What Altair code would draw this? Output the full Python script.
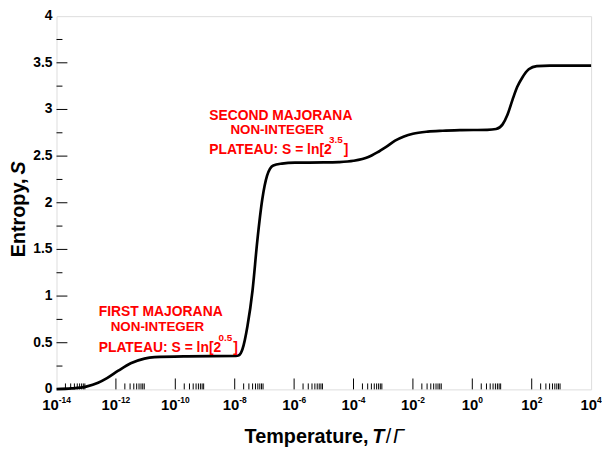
import altair as alt
import pandas as pd

FONT = "Liberation Sans"

# ---- curve: log10(T/Gamma) and entropy S ----
log_T = [-14.0, -13.5, -13.0, -12.6, -12.3, -11.92, -11.5, -11.04, -10.7, -9.6,
         -7.96, -7.86, -7.74, -7.57, -7.40, -7.24, -7.07, -6.91, -6.70, -6.41,
         -5.97, -5.0, -4.5, -4.0, -3.5, -3.2, -2.9, -2.6, -2.3, -2.0,
         -1.5, -1.0, -0.36, 0.5, 0.80, 1.02, 1.18, 1.35, 1.51, 1.68,
         1.90, 2.17, 2.61, 4.0]
entropy = [0.003, 0.01, 0.03, 0.07, 0.12, 0.20, 0.28, 0.33, 0.345, 0.354,
           0.358, 0.365, 0.43, 0.68, 1.06, 1.59, 2.04, 2.29, 2.40, 2.42,
           2.43, 2.432, 2.436, 2.45, 2.49, 2.54, 2.60, 2.665, 2.71, 2.74,
           2.763, 2.772, 2.778, 2.782, 2.79, 2.84, 2.94, 3.10, 3.24, 3.34,
           3.43, 3.465, 3.47, 3.47]

# ---- axes ----
x_label_exp = [-14, -12, -10, -8, -6, -4, -2, 0, 2, 4]
x_major_exp = [-12, -10, -8, -6, -4, -2, 0, 2]
x_minor_decades = [-14, -12, -10, -8, -6, -4, -2, 0, 2]
x_minor_mult = [2, 3, 4, 5, 6, 7, 8, 9]
y_labels = [0, 0.5, 1, 1.5, 2, 2.5, 3, 3.5, 4]
y_label_text = ["0", "0.5", "1", "1.5", "2", "2.5", "3", "3.5", "4"]
y_major = [0.5, 1, 1.5, 2, 2.5, 3, 3.5]
y_minor = [0.25, 0.75, 1.25, 1.75, 2.25, 2.75, 3.25, 3.75]

# ---- annotations ----
ann_left_text = ["FIRST MAJORANA", "PLATEAU: S = ln[2", "SECOND MAJORANA", "PLATEAU: S = ln[2"]
ann_left_logT = [-12.58, -12.58, -8.86, -8.86]
ann_left_S = [0.782, 0.400, 2.888, 2.522]
ann_center_text = ["NON-INTEGER", "NON-INTEGER"]
ann_center_logT = [-10.6, -6.57]
ann_center_S = [0.626, 2.732]
ann_sup_text = ["0.5", "3.5"]
ann_sup_logT = [-12.58, -8.86]
ann_sup_S = [0.400, 2.522]

W, H = 540, 377
RED = "#ff0000"

xscale = alt.Scale(type="log", domain=[1e-14, 1e4], nice=False)
yscale = alt.Scale(domain=[0, 4], nice=False)


def X(field="T"):
    return alt.X(f"{field}:Q", scale=xscale, axis=None)


def Y(field="S"):
    return alt.Y(f"{field}:Q", scale=yscale, axis=None)


curve = pd.DataFrame({"T": [10.0 ** v for v in log_T], "S": entropy})
line = alt.Chart(curve).mark_line(color="black", strokeWidth=2.7, interpolate="monotone").encode(
    x=X(), y=Y())

xmaj_df = pd.DataFrame({"T": [10.0 ** e for e in x_major_exp]})
xmin_df = pd.DataFrame({"T": [m * 10.0 ** d for d in x_minor_decades for m in x_minor_mult]})
ymaj_df = pd.DataFrame({"S": y_major})
ymin_df = pd.DataFrame({"S": y_minor})

xmaj = alt.Chart(xmaj_df).mark_rule(color="black", strokeWidth=1).encode(
    x=X(), y=alt.value(H - 11), y2=alt.value(H))
xmin = alt.Chart(xmin_df).mark_rule(color="black", strokeWidth=1).encode(
    x=X(), y=alt.value(H - 6), y2=alt.value(H))
ymaj = alt.Chart(ymaj_df).mark_rule(color="black", strokeWidth=1).encode(
    y=Y(), x=alt.value(0), x2=alt.value(11))
ymin = alt.Chart(ymin_df).mark_rule(color="black", strokeWidth=1).encode(
    y=Y(), x=alt.value(0), x2=alt.value(6))

# y tick labels
yl_df = pd.DataFrame({"S": y_labels, "lab": y_label_text})
yl = alt.Chart(yl_df).mark_text(align="right", baseline="middle", font=FONT, fontSize=14,
                                fontWeight="bold", color="black").encode(
    y=Y(), x=alt.value(-4), text="lab:N")

# x tick labels 10^n drawn as base + superscript; shifted so the pair is centred
xl_df = pd.DataFrame({"T": [10.0 ** e for e in x_label_exp],
                      "sup": [str(e) for e in x_label_exp]})
xl_layers = []
for nchar, shift in [(3, 2.2), (2, 4.6), (1, 6.0)]:
    sub = alt.Chart(xl_df).transform_filter(f"length(datum.sup) == {nchar}")
    xl_layers.append(sub.mark_text(align="right", baseline="alphabetic", font=FONT, fontSize=15,
                                   fontWeight="bold", color="black", dx=shift).encode(
        x=X(), y=alt.value(H + 21), text=alt.value("10")))
    xl_layers.append(sub.mark_text(align="left", baseline="alphabetic", font=FONT, fontSize=8.5,
                                   fontWeight="bold", color="black", dx=shift).encode(
        x=X(), y=alt.value(H + 13.5), text="sup:N"))

# annotations
al_df = pd.DataFrame({"T": [10.0 ** v for v in ann_left_logT], "S": ann_left_S, "txt": ann_left_text})
ac_df = pd.DataFrame({"T": [10.0 ** v for v in ann_center_logT], "S": ann_center_S, "txt": ann_center_text})
as_df = pd.DataFrame({"T": [10.0 ** v for v in ann_sup_logT], "S": ann_sup_S, "txt": ann_sup_text})

txt_kw = dict(baseline="alphabetic", font=FONT, fontWeight="bold", color=RED)
ann_left = alt.Chart(al_df).mark_text(align="left", fontSize=14, **txt_kw).encode(
    x=X(), y=Y(), text="txt:N")
ann_center = alt.Chart(ac_df).mark_text(align="center", fontSize=13.5, **txt_kw).encode(
    x=X(), y=Y(), text="txt:N")
ann_sup = alt.Chart(as_df).mark_text(align="left", fontSize=10, dx=121, dy=-11, **txt_kw).encode(
    x=X(), y=Y(), text="txt:N")
ann_br = alt.Chart(as_df).mark_text(align="left", fontSize=14, dx=136, **txt_kw).encode(
    x=X(), y=Y(), text=alt.value("]"))

# axis titles with mixed styles
one = pd.DataFrame({"k": [1]})


def title_piece(txt, px, py, size, **kw):
    return alt.Chart(one).mark_text(baseline="alphabetic", font=FONT, fontSize=size,
                                    color="black", **kw).encode(
        x=alt.value(px), y=alt.value(py), text=alt.value(txt))


yt1 = title_piece("Entropy,", -32, 164, 20, angle=270, align="right", fontWeight="bold")
yt2 = title_piece("S", -32, 160, 20, angle=270, align="left", fontWeight="bold", fontStyle="italic")
xt1 = title_piece("Temperature,", 190, 431, 20, align="left", fontWeight="bold")
xt2 = title_piece("T", 319, 431, 20, align="left", fontWeight="bold", fontStyle="italic")
xt3 = title_piece("/", 332.5, 431, 20, align="left")
xt4 = title_piece("Γ", 340, 431, 20, align="left", fontStyle="italic")

chart = alt.layer(
    xmin, xmaj, ymin, ymaj, line, yl, *xl_layers,
    ann_left, ann_center, ann_sup, ann_br,
    yt1, yt2, xt1, xt2, xt3, xt4,
).properties(
    width=W, height=H,
    autosize=alt.AutoSizeParams(type="none"),
    padding={"left": 49, "top": 6, "right": 11, "bottom": 59},
).configure_view(
    stroke="black", strokeWidth=1.6
).configure(background="white")

chart.save("out.html", embed_options={"renderer": "svg", "actions": False})
